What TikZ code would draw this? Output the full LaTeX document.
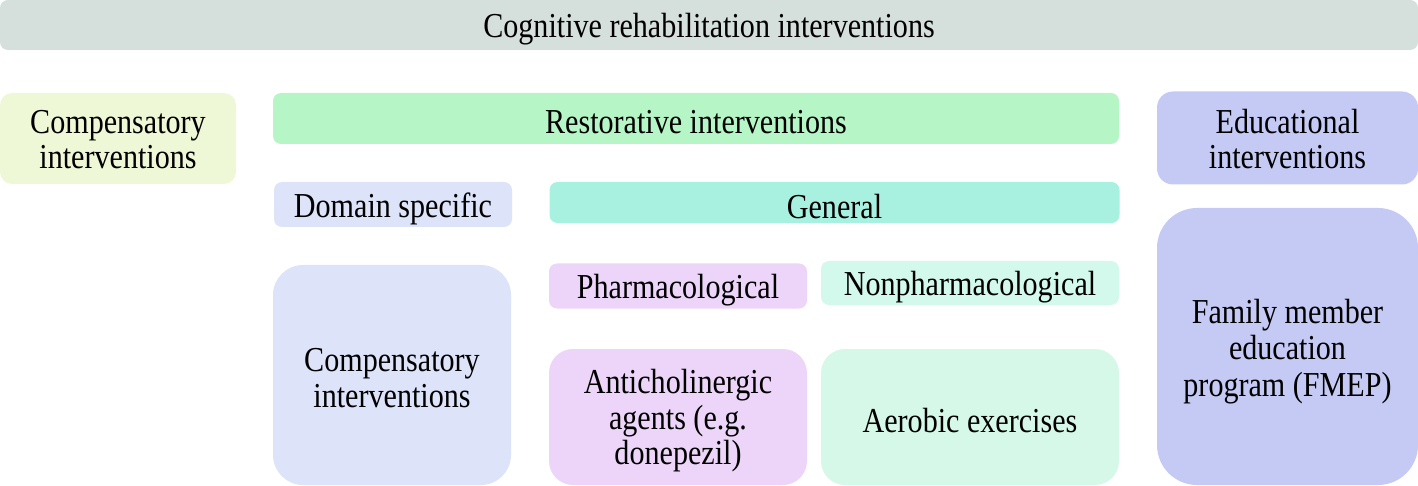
\documentclass[tikz,border=0pt]{standalone}
\usepackage{fontspec}
\setmainfont[FakeStretch=0.86]{Liberation Serif}
\definecolor{ctop}{HTML}{D5DFDC}
\definecolor{cleft}{HTML}{EFF8D6}
\definecolor{crest}{HTML}{B6F5C6}
\definecolor{cgen}{HTML}{A8F0E0}
\definecolor{cdom}{HTML}{DDE3F8}
\definecolor{cpha}{HTML}{ECD5F8}
\definecolor{cnon}{HTML}{D3F9EC}
\definecolor{caer}{HTML}{D5F8E8}
\definecolor{cedu}{HTML}{C5CAF5}
\begin{document}
\begin{tikzpicture}[x=1pt,y=-1pt,
  txt/.style={inner sep=0pt,align=center,yshift=-4pt,
    font=\fontsize{35}{35.5}\selectfont,text=black},
  box/.style={rounded corners=8pt,inner sep=0pt},
  bigbox/.style={box,rounded corners=30pt}]
\useasboundingbox (0,0) rectangle (1418,486);
\node[box,fill=ctop,minimum width=1418pt,minimum height=50pt,label={[txt]center:{Cognitive rehabilitation interventions}}] (top) at (709,25) {};
\node[box,fill=cleft,minimum width=236pt,minimum height=91pt,rounded corners=12pt,label={[txt,yshift=3pt]center:{Compensatory\\interventions}}] (comp) at (118,138.5) {};
\node[box,fill=crest,minimum width=846pt,minimum height=51pt,label={[txt]center:{Restorative interventions}}] (rest) at (696,118.5) {};
\node[box,fill=cedu,minimum width=261pt,minimum height=93pt,rounded corners=16pt,label={[txt,yshift=3pt]center:{Educational\\interventions}}] (edu) at (1287.5,138) {};
\node[box,fill=cdom,minimum width=238pt,minimum height=45pt,label={[txt]center:{Domain specific}}] (dom) at (393,204.5) {};
\node[box,fill=cgen,minimum width=570pt,minimum height=41pt,label={[txt]center:{General}}] (gen) at (834.5,202.5) {};
\node[box,fill=cpha,minimum width=258pt,minimum height=45pt,label={[txt]center:{Pharmacological}}] (pha) at (678,286) {};
\node[box,fill=cnon,minimum width=298pt,minimum height=44pt,label={[txt]center:{Nonpharmacological}}] (non) at (970,283) {};
\node[bigbox,fill=cdom,minimum width=238pt,minimum height=220pt,label={[txt,yshift=1pt]center:{Compensatory\\interventions}}] (comp2) at (392,375) {};
\node[bigbox,fill=cpha,minimum width=258pt,minimum height=136pt,rounded corners=24pt,label={[txt]center:{Anticholinergic\\agents (e.g.\\donepezil)}}] (anti) at (678,417) {};
\node[bigbox,fill=caer,minimum width=298pt,minimum height=136pt,rounded corners=24pt,label={[txt]center:{Aerobic exercises}}] (aer) at (970,417) {};
\node[bigbox,fill=cedu,minimum width=261pt,minimum height=277pt,rounded corners=40pt,label={[txt,font=\fontsize{35}{36.5}\selectfont,yshift=-1pt]center:{Family member\\education\\program (FMEP)}}] (fmep) at (1287.5,346.5) {};
\end{tikzpicture}
\end{document}
